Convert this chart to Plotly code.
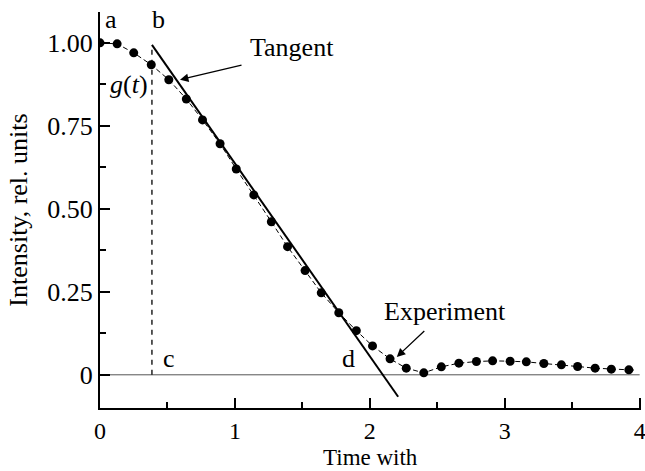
import plotly.graph_objects as go

t_exp = [0.0, 0.127, 0.25, 0.38, 0.51, 0.64, 0.76, 0.89, 1.01, 1.14, 1.27, 1.39,
         1.52, 1.64, 1.77, 1.90, 2.02, 2.15, 2.27, 2.40, 2.53, 2.66, 2.79, 2.91,
         3.04, 3.16, 3.29, 3.42, 3.54, 3.67, 3.79, 3.92]
i_exp = [1.0, 0.997, 0.97, 0.934, 0.889, 0.831, 0.768, 0.696, 0.62, 0.542, 0.461, 0.386,
         0.314, 0.247, 0.187, 0.133, 0.087, 0.048, 0.02, 0.006, 0.024, 0.035, 0.04, 0.042,
         0.041, 0.039, 0.034, 0.03, 0.025, 0.02, 0.017, 0.015]
# dashed guide line extends slightly past last point
t_guide_end = [3.92, 3.97]
i_guide_end = [0.015, 0.014]

# Tangent line endpoints
t_tan = [0.385, 2.21]
i_tan = [0.994, -0.066]

# Vertical dashed line (b-c)
t_vert = [0.385, 0.385]
i_vert = [0.0, 0.985]

x_ticks = [0, 1, 2, 3, 4]
y_ticks = [0, 0.25, 0.5, 0.75, 1.0]
y_ticktext = ["0", "0.25", "0.50", "0.75", "1.00"]
x_title = "Time with"
y_title = "Intensity, rel. units"

FONT = "Liberation Serif, Times New Roman, serif"
FS = 26

fig = go.Figure()

# zero line
fig.add_trace(go.Scatter(x=[0, 4], y=[0, 0], mode="lines",
                         line=dict(color="#555555", width=1), hoverinfo="skip"))
# vertical dashed
fig.add_trace(go.Scatter(x=t_vert, y=i_vert, mode="lines",
                         line=dict(color="black", width=1.3, dash="5px,5px")))
# experiment
fig.add_trace(go.Scatter(x=t_exp, y=i_exp, mode="lines+markers",
                         line=dict(color="black", width=1, dash="5px,3px"),
                         marker=dict(color="black", size=9)))
fig.add_trace(go.Scatter(x=t_guide_end, y=i_guide_end, mode="lines",
                         line=dict(color="black", width=1, dash="5px,3px")))
# tangent
fig.add_trace(go.Scatter(x=t_tan, y=i_tan, mode="lines",
                         line=dict(color="black", width=2)))

labels = [
    ("a", 0.08, 1.07),
    ("b", 0.43, 1.07),
    ("c", 0.51, 0.05),
    ("d", 1.84, 0.05),
]
annotations = []
for txt, x, y in labels:
    annotations.append(dict(x=x, y=y, text=txt, showarrow=False, xref="x", yref="y",
                            font=dict(family=FONT, size=FS, color="black")))
annotations.append(dict(x=0.215, y=0.875, text="<i>g</i>(<i>t</i>)", showarrow=False,
                        font=dict(family=FONT, size=FS, color="black")))
annotations.append(dict(x=1.42, y=0.985, text="Tangent", showarrow=False,
                        font=dict(family=FONT, size=FS, color="black")))
annotations.append(dict(x=0.593, y=0.889, ax=1.06, ay=0.934, axref="x", ayref="y",
                        xref="x", yref="y", text="", showarrow=True, arrowhead=2,
                        arrowsize=1.3, arrowwidth=1.3, arrowcolor="black"))
annotations.append(dict(x=2.555, y=0.19, text="Experiment", showarrow=False,
                        font=dict(family=FONT, size=FS, color="black")))
annotations.append(dict(x=2.2, y=0.054, ax=2.415, ay=0.136, axref="x", ayref="y",
                        xref="x", yref="y", text="", showarrow=True, arrowhead=2,
                        arrowsize=1.3, arrowwidth=1.3, arrowcolor="black"))
# x axis title as annotation (below tick labels)
annotations.append(dict(x=0.5, y=0, xref="paper", yref="paper", text=x_title,
                        showarrow=False, xanchor="center", yanchor="bottom", yshift=-63,
                        borderpad=0, font=dict(family=FONT, size=23, color="black")))

fig.update_layout(
    width=645, height=471,
    margin=dict(l=100, r=4, t=12, b=63, autoexpand=False),
    paper_bgcolor="white", plot_bgcolor="white",
    showlegend=False,
    font=dict(family=FONT, size=FS, color="black"),
    annotations=annotations,
    xaxis=dict(range=[0, 4.01], tickvals=x_ticks, showgrid=False, zeroline=False,
               showline=True, linecolor="black", linewidth=2,
               ticks="inside", ticklen=10, tickwidth=1.5, tickcolor="black",
               minor=dict(dtick=0.5, ticks="inside", ticklen=6, tickwidth=1.5, tickcolor="black"),
               tickfont=dict(size=24), ticklabeloverflow="allow", automargin=False),
    yaxis=dict(range=[-0.1, 1.093], tickvals=y_ticks, ticktext=y_ticktext,
               showgrid=False, zeroline=False,
               showline=True, linecolor="black", linewidth=2,
               ticks="inside", ticklen=10, tickwidth=1.5, tickcolor="black",
               minor=dict(dtick=0.125, ticks="inside", ticklen=6, tickwidth=1.5, tickcolor="black"),
               title=dict(text=y_title, standoff=12, font=dict(size=FS)),
               tickfont=dict(size=FS), automargin=False),
)

fig.write_html("out.html")
